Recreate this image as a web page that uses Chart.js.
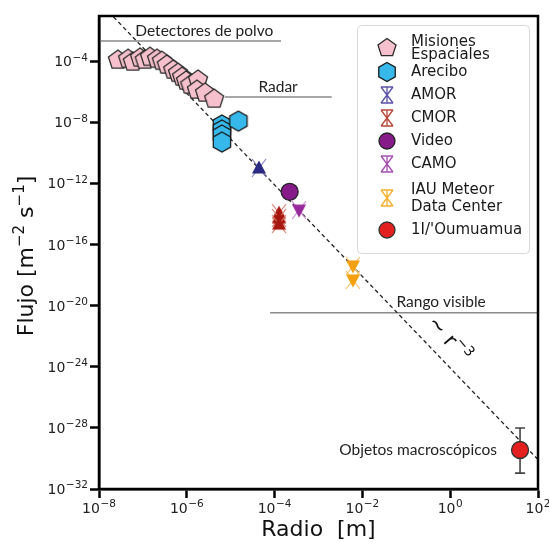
<!DOCTYPE html>
<html>
<head>
<meta charset="utf-8">
<script src="https://cdn.jsdelivr.net/npm/chart.js@4.4.1/dist/chart.umd.min.js"></script>
<style>
  html, body { margin: 0; padding: 0; background: #fff; }
  #wrap { width: 549px; height: 542px; }
</style>
</head>
<body>
<div id="wrap"><canvas id="chart" width="549" height="542"></canvas></div>
<script>
// Flux vs radius (log-log)

const misionesX = [2.7e-8, 4.6e-8, 5.9e-8, 8.6e-8, 1.1e-7, 1.45e-7, 2.1e-7, 2.7e-7, 3.5e-7, 4.9e-7, 6.3e-7, 7.8e-7, 9.6e-7, 1.2e-6, 1.8e-6, 1.7e-6, 2.6e-6, 4.2e-6];
const misionesY = [1.3e-4, 1.5e-4, 9.8e-5, 1.8e-4, 1.3e-4, 2.0e-4, 1.5e-4, 1.1e-4, 6.2e-5, 2.9e-5, 1.8e-5, 1.0e-5, 5.5e-6, 3.0e-6, 6.5e-6, 1.4e-6, 9.0e-7, 3.6e-7];

const areciboX = [6.3e-6, 6.3e-6, 6.3e-6, 6.3e-6, 1.5e-5];
const areciboY = [7.2e-9, 3.4e-9, 1.6e-9, 5.5e-10, 1.3e-8];

const amorX = [4.4e-5];
const amorY = [1.1e-11];

const cmorX = [1.26e-4, 1.26e-4, 1.26e-4];
const cmorY = [1.2e-14, 5.8e-15, 2.3e-15];

const videoX = [2.2e-4];
const videoY = [3.0e-13];

const camoX = [3.6e-4];
const camoY = [1.9e-14];

const iauX = [6.1e-3, 6.1e-3];
const iauY = [4.2e-18, 5.0e-19];

const oumuamuaX = [39];
const oumuamuaY = [3.6e-30];
const oumuamuaErrLow = [1.1e-31];
const oumuamuaErrHigh = [1.0e-28];

// ~ r^-3 reference line (end points)
const trendX = [1e-8, 100];
const trendY = [0.85, 8.5e-31];

// detection ranges: [xStart, xEnd], y
const polvoX = [1e-8, 1.4e-4];
const polvoY = 2.3e-3;
const radarX = [7.4e-6, 2.0e-3];
const radarY = 4.9e-7;
const visibleX = [7.9e-5, 100];
const visibleY = 3.5e-21;

const xTicks = [1e-8, 1e-6, 1e-4, 1e-2, 1e0, 1e2];
const yTicks = [1e-32, 1e-28, 1e-24, 1e-20, 1e-16, 1e-12, 1e-8, 1e-4];

const legendLabels = [['Misiones', 'Espaciales'], ['Arecibo'], ['AMOR'], ['CMOR'], ['Video'], ['CAMO'], ['IAU Meteor', 'Data Center'], ["1I/'Oumuamua"]];

function expOf(v) {
    return String(Math.round(Math.log10(v))).replace('-', '\u2212');
}

// draws "10" with a raised exponent; align is 'right' or 'center'
function drawPow(ctx, x, y, v, align) {
    const base = '14px "DejaVu Sans", sans-serif';
    const sup = '10.5px "DejaVu Sans", sans-serif';
    const e = expOf(v);
    ctx.font = base;
    const wb = ctx.measureText('10').width;
    ctx.font = sup;
    const we = ctx.measureText(e).width;
    const total = wb + we + 0.5;
    let left = align === 'right' ? x - total : x - total / 2;
    ctx.textAlign = 'left';
    ctx.textBaseline = 'middle';
    ctx.font = base;
    ctx.fillText('10', left, y);
    ctx.font = sup;
    ctx.fillText(e, left + wb + 0.5, y - 5);
}

function pts(xs, ys) {
    return xs.map((x, i) => ({x: x, y: ys[i]}));
}

function makeCanvas(size, draw) {
    const c = document.createElement('canvas');
    c.width = size;
    c.height = size;
    draw(c.getContext('2d'), size / 2);
    return c;
}

function polygon(ctx, cx, cy, r, n, fill, stroke) {
    ctx.beginPath();
    for (let i = 0; i < n; i++) {
        const a = -Math.PI / 2 + i * 2 * Math.PI / n;
        const px = cx + r * Math.cos(a), py = cy + r * Math.sin(a);
        if (i === 0) ctx.moveTo(px, py); else ctx.lineTo(px, py);
    }
    ctx.closePath();
    ctx.fillStyle = fill;
    ctx.fill();
    ctx.lineWidth = 1.3;
    ctx.strokeStyle = stroke;
    ctx.stroke();
}

// triangle marker with the crossed error lines seen in the picture
function meteorMarker(fill, lineColor, down) {
    return makeCanvas(24, (ctx, c) => {
        ctx.strokeStyle = lineColor;
        ctx.lineWidth = 1.2;
        ctx.beginPath();
        ctx.moveTo(c - 7, c - 9); ctx.lineTo(c + 7, c + 9);
        ctx.moveTo(c + 7, c - 9); ctx.lineTo(c - 7, c + 9);
        ctx.stroke();
        ctx.save();
        ctx.translate(c, c);
        if (down) ctx.rotate(Math.PI);
        ctx.beginPath();
        ctx.moveTo(0, -7.5);
        ctx.lineTo(7, 5.5);
        ctx.lineTo(-7, 5.5);
        ctx.closePath();
        ctx.fillStyle = fill;
        ctx.fill();
        ctx.restore();
    });
}

// hourglass legend icon
function hourglassIcon(color) {
    return makeCanvas(20, (ctx, c) => {
        ctx.strokeStyle = color;
        ctx.lineWidth = 1.3;
        ctx.beginPath();
        ctx.moveTo(c - 6, c - 8); ctx.lineTo(c + 6, c - 8);
        ctx.moveTo(c - 6, c + 8); ctx.lineTo(c + 6, c + 8);
        ctx.moveTo(c - 6, c - 8); ctx.lineTo(c + 6, c + 8);
        ctx.moveTo(c + 6, c - 8); ctx.lineTo(c - 6, c + 8);
        ctx.moveTo(c, c - 8); ctx.lineTo(c, c + 8);
        ctx.stroke();
    });
}

const pentagon = makeCanvas(26, (ctx, c) => polygon(ctx, c, c, 10, 5, '#f6c0cc', '#2b2b2b'));
const hexagon = makeCanvas(26, (ctx, c) => polygon(ctx, c, c, 10, 6, '#36b9ea', '#1b1b1b'));
const amorMarker = meteorMarker('#2b2a82', '#8a80c8', false);
const cmorMarker = meteorMarker('#a8170f', '#d87a6c', false);
const camoMarker = meteorMarker('#98299c', '#c98ad2', true);
const iauMarker = meteorMarker('#f5a00f', '#f8c36a', true);

const legendIcons = [
    makeCanvas(24, (ctx, c) => polygon(ctx, c, c, 9.5, 5, '#f6c0cc', '#2b2b2b')),
    makeCanvas(24, (ctx, c) => polygon(ctx, c, c, 9.5, 6, '#36b9ea', '#1b1b1b')),
    hourglassIcon('#5a52a8'),
    hourglassIcon('#b8483a'),
    makeCanvas(22, (ctx, c) => { ctx.beginPath(); ctx.arc(c, c, 8, 0, 2 * Math.PI); ctx.fillStyle = '#861a88'; ctx.fill(); ctx.lineWidth = 1.3; ctx.strokeStyle = '#222'; ctx.stroke(); }),
    hourglassIcon('#a750b0'),
    hourglassIcon('#f5b030'),
    makeCanvas(22, (ctx, c) => { ctx.beginPath(); ctx.arc(c, c, 8, 0, 2 * Math.PI); ctx.fillStyle = '#e3201f'; ctx.fill(); ctx.lineWidth = 1.3; ctx.strokeStyle = '#333'; ctx.stroke(); })
];
const legendRowY = [[42, 55], [72], [95], [118], [141], [164], [190, 207], [230]];
const legendIconY = [48, 72, 95, 118, 141, 164, 198, 230];

const annotations = [
    {text: 'Detectores de polvo', x: 2.5e-6, y: 1.05e-2, align: 'center'},
    {text: 'Radar', x: 1.2e-4, y: 2.2e-6, align: 'center'},
    {text: 'Rango visible', x: 0.62, y: 1.8e-20, align: 'center'},
    {text: 'Objetos macroscópicos', x: 11.6, y: 3.6e-30, align: 'right'}
];

const extrasPlugin = {
    id: 'extras',
    beforeDatasetsDraw(chart) {
        const {ctx, scales: {x, y}} = chart;
        // error bar for 1I/'Oumuamua
        ctx.save();
        ctx.strokeStyle = '#444';
        ctx.lineWidth = 1.6;
        oumuamuaX.forEach((v, i) => {
            const px = x.getPixelForValue(v);
            const top = y.getPixelForValue(oumuamuaErrHigh[i]);
            const bot = y.getPixelForValue(oumuamuaErrLow[i]);
            ctx.beginPath();
            ctx.moveTo(px, top); ctx.lineTo(px, bot);
            ctx.moveTo(px - 5, top); ctx.lineTo(px + 5, top);
            ctx.moveTo(px - 5, bot); ctx.lineTo(px + 5, bot);
            ctx.stroke();
        });
        ctx.restore();
    },
    afterDraw(chart) {
        const {ctx, chartArea: a, scales: {x, y}} = chart;
        ctx.save();
        // frame (top/right)
        ctx.strokeStyle = '#000';
        ctx.lineWidth = 2.5;
        ctx.strokeRect(a.left, a.top, a.right - a.left, a.bottom - a.top);

        // tick labels with real superscripts
        ctx.fillStyle = '#222';
        xTicks.forEach(v => drawPow(ctx, x.getPixelForValue(v), a.bottom + 20, v, 'center'));
        yTicks.forEach(v => drawPow(ctx, a.left - 11, y.getPixelForValue(v) + 1, v, 'right'));

        // y axis title
        ctx.save();
        ctx.translate(27, 256);
        ctx.rotate(-Math.PI / 2);
        ctx.fillStyle = '#111';
        ctx.textBaseline = 'middle';
        ctx.textAlign = 'left';
        const parts = [['Flujo [m', 0], ['\u22122', 1], [' s', 0], ['\u22121', 1], [']', 0]];
        let w = 0;
        parts.forEach(p => { ctx.font = p[1] ? '15px "DejaVu Sans", sans-serif' : '22px "DejaVu Sans", sans-serif'; w += ctx.measureText(p[0]).width; });
        let cx = -w / 2;
        parts.forEach(p => {
            ctx.font = p[1] ? '15px "DejaVu Sans", sans-serif' : '22px "DejaVu Sans", sans-serif';
            ctx.fillText(p[0], cx, p[1] ? -7 : 0);
            cx += ctx.measureText(p[0]).width;
        });
        ctx.restore();

        // annotation texts
        ctx.fillStyle = '#222';
        ctx.font = '15.5px Lato, "Open Sans", sans-serif';
        ctx.textBaseline = 'middle';
        annotations.forEach(t => {
            ctx.textAlign = t.align;
            ctx.fillText(t.text, x.getPixelForValue(t.x), y.getPixelForValue(t.y));
        });

        // ~ r^-3 label along the line
        ctx.save();
        ctx.translate(x.getPixelForValue(0.9), y.getPixelForValue(5.9e-23));
        ctx.rotate(50 * Math.PI / 180);
        ctx.fillStyle = '#111';
        ctx.textAlign = 'left';
        ctx.font = '21px "DejaVu Sans", sans-serif';
        const w1 = ctx.measureText('~ r').width;
        ctx.font = '14px "DejaVu Sans", sans-serif';
        const w2 = ctx.measureText('\u22123').width;
        ctx.font = '21px "DejaVu Sans", sans-serif';
        ctx.fillText('~ r', -(w1 + w2) / 2, 0);
        ctx.font = '14px "DejaVu Sans", sans-serif';
        ctx.fillText('\u22123', -(w1 + w2) / 2 + w1, -8);
        ctx.restore();

        // legend
        ctx.fillStyle = 'rgba(255,255,255,0.85)';
        ctx.strokeStyle = '#d8d8d8';
        ctx.lineWidth = 1;
        ctx.beginPath();
        ctx.roundRect(357.5, 25.5, 172, 228, 4);
        ctx.fill();
        ctx.stroke();
        ctx.font = '15px "DejaVu Sans", sans-serif';
        ctx.fillStyle = '#1a1a1a';
        ctx.textAlign = 'left';
        legendLabels.forEach((lines, i) => {
            const icon = legendIcons[i];
            ctx.drawImage(icon, 387 - icon.width / 2, legendIconY[i] - icon.height / 2);
            lines.forEach((s, j) => ctx.fillText(s, 411, legendRowY[i][j]));
        });
        ctx.restore();
    }
};

function rangeLine(xs, yv) {
    return {
        type: 'line',
        data: [{x: xs[0], y: yv}, {x: xs[1], y: yv}],
        borderColor: '#8a8a8a',
        borderWidth: 1.5,
        pointRadius: 0,
        showLine: true,
        order: 10
    };
}

new Chart(document.getElementById('chart'), {
    type: 'scatter',
    data: {
        datasets: [
            {
                type: 'line',
                data: pts(trendX, trendY),
                borderColor: '#222',
                borderWidth: 1.3,
                borderDash: [4, 3],
                pointRadius: 0,
                showLine: true,
                order: 9
            },
            rangeLine(polvoX, polvoY),
            rangeLine(radarX, radarY),
            rangeLine(visibleX, visibleY),
            {data: pts(misionesX, misionesY), pointStyle: pentagon, order: 5},
            {data: pts(areciboX, areciboY), pointStyle: hexagon, order: 4},
            {data: pts(amorX, amorY), pointStyle: amorMarker, order: 3},
            {data: pts(cmorX, cmorY), pointStyle: cmorMarker, order: 3},
            {data: pts(videoX, videoY), pointStyle: 'circle', pointRadius: 8.5, backgroundColor: '#861a88', borderColor: '#222', borderWidth: 1.3, order: 3},
            {data: pts(camoX, camoY), pointStyle: camoMarker, order: 2},
            {data: pts(iauX, iauY), pointStyle: iauMarker, order: 2},
            {data: pts(oumuamuaX, oumuamuaY), pointStyle: 'circle', pointRadius: 8.5, backgroundColor: '#e3201f', borderColor: '#333', borderWidth: 1.3, order: 1}
        ]
    },
    options: {
        responsive: false,
        animation: false,
        layout: {padding: {top: 16, right: 11, left: 0, bottom: 0}},
        plugins: {legend: {display: false}, tooltip: {enabled: false}},
        scales: {
            x: {
                type: 'logarithmic',
                min: 1e-8,
                max: 1e2,
                afterBuildTicks: s => { s.ticks = xTicks.map(v => ({value: v})); },
                afterFit: s => { s.height = 53; },
                border: {display: true, color: '#000', width: 2.5},
                grid: {drawOnChartArea: false, drawTicks: true, tickLength: 9, tickWidth: 2.5, tickColor: '#000'},
                ticks: {display: false, autoSkip: false},
                title: {
                    display: true, text: 'Radio  [m]', color: '#111',
                    font: {family: 'DejaVu Sans', size: 22, lineHeight: 1},
                    padding: {top: 0, bottom: 1}
                }
            },
            y: {
                type: 'logarithmic',
                min: 1e-32,
                max: 1e-1,
                afterBuildTicks: s => { s.ticks = yTicks.map(v => ({value: v})); },
                afterFit: s => { s.width = 99; },
                border: {display: true, color: '#000', width: 2.5},
                grid: {drawOnChartArea: false, drawTicks: true, tickLength: 9, tickWidth: 2.5, tickColor: '#000'},
                ticks: {display: false, autoSkip: false}
            }
        }
    },
    plugins: [extrasPlugin]
});
</script>
</body>
</html>
